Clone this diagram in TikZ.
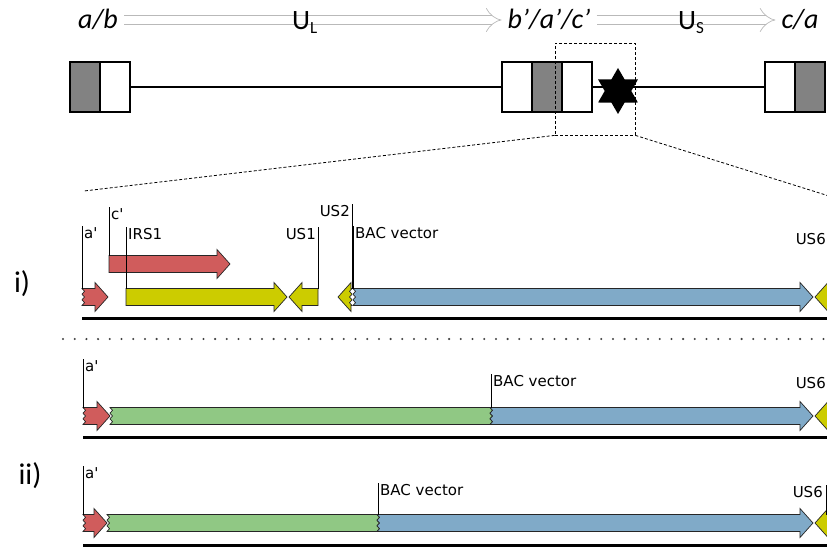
\documentclass[tikz,border=0pt]{standalone}
\usepackage{fontspec}
\usetikzlibrary{arrows.meta,shapes.geometric,positioning}

\newfontfamily\califont{Carlito}
\newfontfamily\lblfont{DejaVu Sans}[Ligatures=TeXOff]

\definecolor{genered}{RGB}{208,92,92}
\definecolor{geneyellow}{RGB}{204,204,0}
\definecolor{geneblue}{RGB}{128,170,200}
\definecolor{genegreen}{RGB}{144,200,132}
\definecolor{boxgray}{RGB}{130,130,130}

% genes: tail x, tip x, centre y, colour  (j = cut, jagged tail)
\newcommand{\rgene}[4]{%
  \draw[gene,fill=#4] (#1,#3-8.5) -- (#2-13,#3-8.5) -- (#2-13,#3-14.5) -- (#2,#3)
    -- (#2-13,#3+14.5) -- (#2-13,#3+8.5) -- (#1,#3+8.5) -- cycle;}
\newcommand{\rgenej}[4]{%
  \draw[gene,fill=#4] (#1,#3-8.5) -- (#2-13,#3-8.5) -- (#2-13,#3-14.5) -- (#2,#3)
    -- (#2-13,#3+14.5) -- (#2-13,#3+8.5) -- (#1,#3+8.5)
    -- (#1+2.5,#3+5.7) -- (#1,#3+2.8) -- (#1+2.5,#3) -- (#1,#3-2.8)
    -- (#1+2.5,#3-5.7) -- cycle;}
\newcommand{\lgene}[4]{%
  \draw[gene,fill=#4] (#1,#3-8.5) -- (#2+13,#3-8.5) -- (#2+13,#3-14.5) -- (#2,#3)
    -- (#2+13,#3+14.5) -- (#2+13,#3+8.5) -- (#1,#3+8.5) -- cycle;}
\newcommand{\lgenej}[4]{%
  \draw[gene,fill=#4] (#1,#3-8.5) -- (#2+13,#3-8.5) -- (#2+13,#3-14.5) -- (#2,#3)
    -- (#2+13,#3+14.5) -- (#2+13,#3+8.5) -- (#1,#3+8.5)
    -- (#1-2.5,#3+5.7) -- (#1,#3+2.8) -- (#1-2.5,#3) -- (#1,#3-2.8)
    -- (#1-2.5,#3-5.7) -- cycle;}
% cut block: left x, right x, centre y, colour
\newcommand{\cutblock}[4]{%
  \draw[gene,fill=#4] (#1,#3-8.5) -- (#2,#3-8.5)
    -- (#2+2.5,#3-5.7) -- (#2,#3-2.8) -- (#2+2.5,#3) -- (#2,#3+2.8) -- (#2+2.5,#3+5.7)
    -- (#2,#3+8.5) -- (#1,#3+8.5)
    -- (#1+2.5,#3+5.7) -- (#1,#3+2.8) -- (#1+2.5,#3) -- (#1,#3-2.8) -- (#1+2.5,#3-5.7)
    -- cycle;}

\begin{document}
\begin{tikzpicture}[x=1pt,y=-1pt,
    box/.style={draw, line width=1.8pt, minimum width=30pt, minimum height=50pt, inner sep=0pt},
    hexstar/.style={star, star points=6, star point ratio=1.73, minimum size=46pt, inner sep=0pt, fill=black},
    zoombox/.style={draw, line width=0.8pt, dash pattern=on 3pt off 2pt, minimum width=80pt, minimum height=92pt, inner sep=0pt},
    zoomline/.style={line width=0.8pt, dash pattern=on 3pt off 2pt},
    toplbl/.style={font=\califont\itshape\fontsize{28}{30}\selectfont, text height=18pt, text depth=0pt, inner sep=6pt},
    sublbl/.style={font=\califont\fontsize{28}{30}\selectfont, inner sep=0pt},
    hollow/.style={draw=gray!55, line width=0.7pt, double=white, double distance=8pt, -{Implies}},
    rowlbl/.style={font=\califont\fontsize{30}{34}\selectfont},
    lbl/.style={font=\lblfont\fontsize{15}{17}\selectfont, inner xsep=2pt, inner ysep=1pt},
    leader/.style={line width=0.8pt},
    gene/.style={draw=black!85, line width=0.7pt},
    track/.style={line width=3pt},
    sep/.style={line width=2.3pt, line cap=round, dash pattern=on 0pt off 11.7pt, black!75}]
\useasboundingbox (0,0) rectangle (827,548);

% genome overview
\node[toplbl] (ab) at (98,20) {a/b};
\node[toplbl] (bac) at (549,20) {b’/a’/c’};
\node[toplbl] (ca) at (800,20) {c/a};
\draw[hollow] (ab) -- (bac);
\draw[hollow] (bac) -- (ca);
\node[sublbl, anchor=base west] (ul) at (292,30) {U\raisebox{-4pt}{\fontsize{17}{17}\selectfont L}};
\node[sublbl, anchor=base west] (us) at (678,30) {U\raisebox{-4pt}{\fontsize{17}{17}\selectfont S}};

\node[box, fill=boxgray] (lg) at (85,87) {};
\node[box, fill=white] (lw) at (115,87) {};
\node[box, fill=white] (mw1) at (517,87) {};
\node[box, fill=boxgray] (mg) at (547,87) {};
\node[box, fill=white] (mw2) at (577,87) {};
\node[box, fill=white] (rw) at (780,87) {};
\node[box, fill=boxgray] (rg) at (810,87) {};
\draw[line width=1.5pt] (lw.east) -- (mw1.west);
\draw[line width=1.5pt] (mw2.east) -- (rw.west);
\node[hexstar] (site) at (618,91) {};

\node[zoombox] (zoom) at (595,89) {};
\coordinate (zl) at (84,191);
\coordinate (zr) at (829,196);
\draw[zoomline] (zoom.south west) -- (zl);
\draw[zoomline] (zoom.south east) -- (zr);

% i)
\node[rowlbl] (rowI) at (22,284) {i)};
\rgenej{82}{108}{297}{genered}
\rgene{109}{230}{264}{genered}
\rgene{126}{287}{297}{geneyellow}
\lgene{318}{289}{297}{geneyellow}
\lgenej{352}{338}{297}{geneyellow}
\rgenej{353}{813}{297}{geneblue}
\lgene{840}{815}{297}{geneyellow}
\draw[track] (82,318) -- (827,318);

\node[lbl, anchor=north west] (aIlab) at (82,226) {a'};
\node[lbl, anchor=north west] (cIlab) at (109,207) {c'};
\node[lbl, anchor=north west] (irsIlab) at (126,227) {IRS1};
\node[lbl, anchor=north east] (usoneIlab) at (318,227) {US1};
\node[lbl, anchor=north east] (ustwoIlab) at (352,204) {US2};
\node[lbl, anchor=north west] (bacIlab) at (353,226) {BAC vector};
\node[lbl, anchor=north east] (ussixIlab) at (828,232) {US6};
\coordinate (aI) at (82,288.5);
\coordinate (cI) at (109,255.5);
\coordinate (irsI) at (126,288.5);
\coordinate (usoneI) at (318,288.5);
\coordinate (ustwoI) at (352,288.5);
\coordinate (bacI) at (353,288.5);
\draw[leader] (aI) -- (aI |- aIlab.north);
\draw[leader] (cI) -- (cI |- cIlab.north);
\draw[leader] (irsI) -- (irsI |- irsIlab.north);
\draw[leader] (usoneI) -- (usoneI |- usoneIlab.north);
\draw[leader] (ustwoI) -- (ustwoI |- ustwoIlab.north);
\draw[leader, line width=2pt] (bacI) -- (bacI |- bacIlab.north);

\draw[sep] (63,339) -- (827,339);

% ii)
\node[rowlbl] (rowII) at (30,476) {ii)};
\rgenej{83}{110}{416}{genered}
\cutblock{110}{490}{416}{genegreen}
\rgenej{490}{813}{416}{geneblue}
\lgene{840}{815}{416}{geneyellow}
\draw[track] (83,437) -- (827,437);
\node[lbl, anchor=north west] (aIIlab) at (83,359) {a'};
\node[lbl, anchor=north west] (bacIIlab) at (491,374) {BAC vector};
\node[lbl, anchor=north east] (ussixIIlab) at (828,376) {US6};
\coordinate (aII) at (83,407.5);
\coordinate (bacII) at (491,407.5);
\draw[leader] (aII) -- (aII |- aIIlab.north);
\draw[leader] (bacII) -- (bacII |- bacIIlab.north);

\rgenej{83}{107}{523}{genered}
\cutblock{107}{377}{523}{genegreen}
\rgenej{377}{813}{523}{geneblue}
\lgene{840}{815}{523}{geneyellow}
\draw[track] (83,545) -- (827,545);
\node[lbl, anchor=north west] (aIIIlab) at (83,466) {a'};
\node[lbl, anchor=north west] (bacIIIlab) at (378,483) {BAC vector};
\node[lbl, anchor=north east] (ussixIIIlab) at (825,485) {US6};
\coordinate (aIII) at (83,514.5);
\coordinate (bacIII) at (378,514.5);
\coordinate (ussixIII) at (826,514.5);
\draw[leader] (aIII) -- (aIII |- aIIIlab.north);
\draw[leader] (bacIII) -- (bacIII |- bacIIIlab.north);
\draw[leader] (ussixIII) -- (ussixIII |- ussixIIIlab.north);
\end{tikzpicture}
\end{document}
